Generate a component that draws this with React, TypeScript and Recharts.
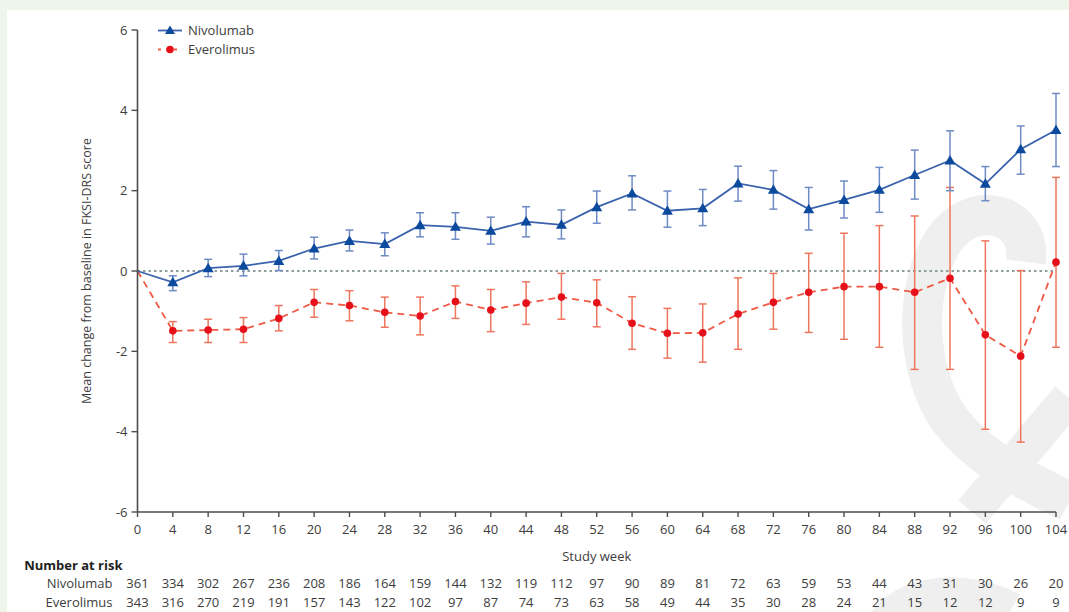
import { ComposedChart, Line, XAxis, YAxis, ErrorBar, ReferenceLine, Legend } from 'recharts'

const weeks = [0, 4, 8, 12, 16, 20, 24, 28, 32, 36, 40, 44, 48, 52, 56, 60, 64, 68, 72, 76, 80, 84, 88, 92, 96, 100, 104]

const nivMean = [0, -0.28, 0.07, 0.13, 0.25, 0.56, 0.75, 0.67, 1.14, 1.1, 1.0, 1.23, 1.15, 1.59, 1.93, 1.5, 1.56, 2.18, 2.02, 1.54, 1.77, 2.02, 2.39, 2.75, 2.17, 3.03, 3.51]
const nivLow = [null, -0.49, -0.14, -0.12, 0.01, 0.3, 0.5, 0.38, 0.85, 0.79, 0.67, 0.85, 0.8, 1.19, 1.52, 1.09, 1.13, 1.74, 1.54, 1.02, 1.32, 1.46, 1.79, 2.0, 1.75, 2.41, 2.6]
const nivHigh = [null, -0.12, 0.29, 0.42, 0.51, 0.84, 1.02, 0.95, 1.45, 1.45, 1.34, 1.6, 1.52, 1.99, 2.37, 1.99, 2.03, 2.61, 2.5, 2.08, 2.24, 2.58, 3.01, 3.49, 2.6, 3.61, 4.42]

const eveMean = [0, -1.49, -1.47, -1.45, -1.18, -0.78, -0.86, -1.03, -1.12, -0.76, -0.97, -0.8, -0.65, -0.79, -1.3, -1.55, -1.54, -1.07, -0.78, -0.53, -0.39, -0.39, -0.53, -0.18, -1.59, -2.12, 0.22]
const eveLow = [null, -1.78, -1.78, -1.78, -1.49, -1.15, -1.24, -1.4, -1.59, -1.18, -1.51, -1.33, -1.2, -1.39, -1.95, -2.17, -2.27, -1.95, -1.45, -1.53, -1.7, -1.9, -2.45, -2.45, -3.94, -4.26, -1.9]
const eveHigh = [null, -1.26, -1.2, -1.16, -0.86, -0.46, -0.49, -0.65, -0.65, -0.37, -0.46, -0.27, -0.06, -0.22, -0.64, -0.93, -0.82, -0.17, -0.06, 0.44, 0.94, 1.13, 1.37, 2.08, 0.75, 0.01, 2.33]

const nivRisk = [361, 334, 302, 267, 236, 208, 186, 164, 159, 144, 132, 119, 112, 97, 90, 89, 81, 72, 63, 59, 53, 44, 43, 31, 30, 26, 20]
const eveRisk = [343, 316, 270, 219, 191, 157, 143, 122, 102, 97, 87, 74, 73, 63, 58, 49, 44, 35, 30, 28, 24, 21, 15, 12, 12, 9, 9]

const yTicks = [-6, -4, -2, 0, 2, 4, 6]

const FONT = '"Open Sans", sans-serif'
const TEXT = '#3d3d3d'
const AXIS = '#4d4d4d'
const NIV_LINE = '#3a62ad'
const NIV_MARK = '#0c4a9e'
const NIV_ERR = '#6f8bc4'
const EVE_LINE = '#ef5a45'
const EVE_MARK = '#e5101a'
const EVE_ERR = '#ee765e'

const data = weeks.map((week, i) => ({
  week,
  niv: nivMean[i],
  nivErr: nivLow[i] == null ? null : [nivMean[i] - (nivLow[i] as number), (nivHigh[i] as number) - nivMean[i]],
  eve: eveMean[i],
  eveErr: eveLow[i] == null ? null : [eveMean[i] - (eveLow[i] as number), (eveHigh[i] as number) - eveMean[i]],
}))

const tickStyle = { fontFamily: FONT, fontSize: 13, fill: TEXT }

const TriangleDot = (p: any) => {
  if (p.payload.week === 0) return <g key={`nd-${p.index}`} />
  const { cx, cy } = p
  return <path key={`nd-${p.index}`} d={`M${cx},${cy - 5.5}L${cx + 5.5},${cy + 4}L${cx - 5.5},${cy + 4}Z`} fill={NIV_MARK} />
}

const CircleDot = (p: any) => {
  if (p.payload.week === 0) return <g key={`ed-${p.index}`} />
  return <circle key={`ed-${p.index}`} cx={p.cx} cy={p.cy} r={3.8} fill={EVE_MARK} />
}

const LegendBox = () => (
  <div style={{ fontFamily: FONT, fontSize: 13, color: TEXT, lineHeight: '19px' }}>
    <div style={{ display: 'flex', alignItems: 'center', height: 19 }}>
      <svg width={28} height={19}>
        <line x1={2} x2={26} y1={9.5} y2={9.5} stroke={NIV_LINE} strokeWidth={1.8} />
        <path d="M14,4.5L19,13L9,13Z" fill={NIV_MARK} />
      </svg>
      <span style={{ marginLeft: 4 }}>Nivolumab</span>
    </div>
    <div style={{ display: 'flex', alignItems: 'center', height: 19 }}>
      <svg width={28} height={19}>
        <line x1={2} x2={26} y1={9.5} y2={9.5} stroke={EVE_LINE} strokeWidth={1.8} strokeDasharray="3 5" />
        <circle cx={14} cy={9.5} r={3.8} fill={EVE_MARK} />
      </svg>
      <span style={{ marginLeft: 4 }}>Everolimus</span>
    </div>
  </div>
)

export default function App() {
  return (
    <div style={{ position: 'absolute', left: 0, top: 0, width: 1069, height: 612, background: '#eef5ea', overflow: 'hidden' }}>
      <div style={{ position: 'absolute', left: 7, top: 10, right: 0, bottom: 0, background: '#ffffff' }} />
      {/* publisher watermark */}
      <svg width={1069} height={612} style={{ position: 'absolute', left: 0, top: 0 }}>
        <g fill="none" stroke="#efefef" strokeLinecap="butt">
          <path d="M1026,262 C1032,212 972,198 944,240 C914,285 914,370 950,420 C982,462 1030,482 1069,502" strokeWidth={40} />
          <path d="M972,512 L1069,398" strokeWidth={36} />
          <path d="M880,640 C890,596 960,585 1010,612" strokeWidth={40} />
        </g>
      </svg>
      <div style={{ position: 'absolute', left: 0, top: 0 }}>
        <ComposedChart width={1069} height={612} data={data} margin={{ top: 30, right: 13, bottom: 0, left: 0 }}>
          <XAxis
            dataKey="week"
            type="number"
            domain={[0, 104]}
            ticks={weeks}
            interval={0}
            height={44}
            tickSize={5}
            tickMargin={8}
            tick={tickStyle}
            axisLine={{ stroke: AXIS, strokeWidth: 1.6 }}
            tickLine={{ stroke: AXIS, strokeWidth: 1.4 }}
            label={{ value: 'Study week', position: 'insideBottom', offset: -5, style: { fontFamily: FONT, fontSize: 13, fill: TEXT } }}
          />
          <XAxis
            xAxisId="r1hdr"
            dataKey="week"
            type="number"
            domain={[0, 104]}
            ticks={weeks}
            height={18}
            tick={false}
            axisLine={false}
            tickLine={false}
            label={{ value: 'Number at risk', position: 'left', offset: 15, style: { fontFamily: FONT, fontSize: 13, fontWeight: 700, fill: '#222' } }}
          />
          <XAxis
            xAxisId="r2niv"
            dataKey="week"
            type="number"
            domain={[0, 104]}
            ticks={weeks}
            interval={0}
            height={19}
            tickSize={0}
            tickMargin={5}
            tick={tickStyle}
            axisLine={false}
            tickLine={false}
            tickFormatter={(w: number) => String(nivRisk[weeks.indexOf(w)])}
            label={{ value: 'Nivolumab', position: 'left', offset: 25, style: { fontFamily: FONT, fontSize: 13, fill: TEXT } }}
          />
          <XAxis
            xAxisId="r3eve"
            dataKey="week"
            type="number"
            domain={[0, 104]}
            ticks={weeks}
            interval={0}
            height={19}
            tickSize={0}
            tickMargin={5}
            tick={tickStyle}
            axisLine={false}
            tickLine={false}
            tickFormatter={(w: number) => String(eveRisk[weeks.indexOf(w)])}
            label={{ value: 'Everolimus', position: 'left', offset: 25, style: { fontFamily: FONT, fontSize: 13, fill: TEXT } }}
          />
          <YAxis
            type="number"
            domain={[-6, 6]}
            ticks={yTicks}
            interval={0}
            width={137.5}
            tickSize={6}
            tickMargin={4}
            tick={tickStyle}
            axisLine={{ stroke: AXIS, strokeWidth: 1.6 }}
            tickLine={{ stroke: AXIS, strokeWidth: 1.4 }}
            label={{
              value: 'Mean change from baseline in FKSI-DRS score',
              angle: -90,
              position: 'insideLeft',
              offset: 87,
              style: { textAnchor: 'middle', fontFamily: FONT, fontSize: 12.5, fill: TEXT },
            }}
          />
          <ReferenceLine y={0} stroke="#8d9d9d" strokeWidth={2} strokeDasharray="2.5 3" />
          <Legend verticalAlign="middle" align="center" layout="vertical" wrapperStyle={{ left: 156, top: 20.5, width: 'auto', height: 'auto' }} content={<LegendBox />} />
          <Line
            dataKey="eve"
            name="Everolimus"
            type="linear"
            stroke={EVE_LINE}
            strokeWidth={1.8}
            strokeDasharray="7 5"
            dot={CircleDot}
            activeDot={false}
            isAnimationActive={false}
          >
            <ErrorBar dataKey="eveErr" direction="y" width={4} stroke={EVE_ERR} strokeWidth={1.5} />
          </Line>
          <Line
            dataKey="niv"
            name="Nivolumab"
            type="linear"
            stroke={NIV_LINE}
            strokeWidth={1.8}
            dot={TriangleDot}
            activeDot={false}
            isAnimationActive={false}
          >
            <ErrorBar dataKey="nivErr" direction="y" width={4} stroke={NIV_ERR} strokeWidth={1.5} />
          </Line>
        </ComposedChart>
      </div>
    </div>
  )
}
